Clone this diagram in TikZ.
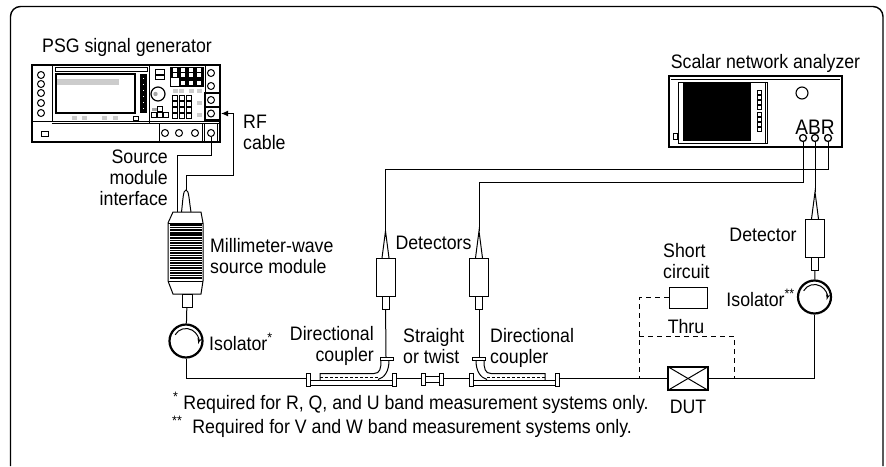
\documentclass[tikz,border=0pt]{standalone}
\usepackage{fontspec}
\setmainfont{Liberation Sans}[FakeStretch=0.91]
\usetikzlibrary{arrows, arrows.meta}

% coupler drawn with its port at the origin, long end towards +x
\newcommand{\coupler}{
\draw[wire] (-10,-5) rectangle (-6,8);
\draw[wire] (76,-5) rectangle (80,8);
\draw[wire] (-6,2) -- (76,2);
\draw[wire] (-6,7) -- (76,7);
\draw[wire] (-7,-21) rectangle (6,-18);
\draw[wire] (-3,-18) .. controls (-3,-8) and (1,-1) .. (8,1);
\draw[wire] (5,-18) .. controls (5,-10) and (6,-5) .. (12,-5) -- (66,-5) -- (66,2);
\draw[wire, densely dashed] (8,-1) -- (66,-1);
}
% name, x, top of body
\newcommand{\detector}[3]{
\node[detbody] (#1) at (#2,#3+19) {};
\node[detneck] (#1n) at (#2,#3+44.5) {};
\coordinate (#1tip) at (#2,#3-27);
\draw[wire] (#2-3.5,#3) -- (#1tip) -- (#2+3.5,#3);
}

\begin{document}
\begin{tikzpicture}[x=1pt,y=-1pt]

\tikzset{wire/.style = {line width=1pt}}
\tikzset{heavy/.style = {line width=2.2pt}}
\tikzset{port/.style = {shape=circle,draw,line width=1pt,minimum size=7pt,inner sep=0pt}}
\tikzset{key/.style = {draw,line width=0.8pt,fill=white,minimum size=4.5pt,inner sep=0pt}}
\tikzset{bar/.style = {fill=gray!40,draw=none,minimum width=5pt,minimum height=3.5pt,inner sep=0pt}}
\tikzset{isolator/.style = {shape=circle,draw,line width=2.2pt,minimum size=33pt,inner sep=0pt}}
\tikzset{detbody/.style = {draw,line width=1pt,minimum width=19pt,minimum height=38pt,inner sep=0pt}}
\tikzset{detneck/.style = {draw,line width=1pt,minimum width=7pt,minimum height=13pt,inner sep=0pt}}
\tikzset{lbl/.style = {inner sep=0pt,align=left,font=\fontsize{19.5}{21}\selectfont}}

\useasboundingbox (0,0) rectangle (886,466);
%frame
\draw[line width=1.4pt, rounded corners=10pt] (10.5,466) -- (10.5,6.5) -- (883,6.5) -- (883,466);

%signal generator
\node[heavy, draw, minimum width=188pt, minimum height=77pt, inner sep=0pt] (psg) at (126,103.5) {};
\draw[wire] (52,65) -- (52,121) -- (32,121);
\draw[wire] (32,121) -- (220,121);
\draw[wire] (52,123) -- (149,123) -- (149,65);
\draw[wire] (149,123) -- (220,123);
\draw[wire] (55,67) rectangle (147,71);
\draw[line width=1.3pt] (56,74) rectangle (135,113);
\fill[gray!40] (57,79) rectangle (119,85);
\foreach \y in {75,84,93,103,113} {\node[port] (led\y) at (41,\y) {};}
\foreach \x in {74,84,104,115} {\node[bar] (bar\x) at (\x,118) {};}
\draw[wire] (133,116) rectangle (138,120);
\fill (140,74) rectangle (147,113);
\foreach \y in {78,84,90,96,102,108} {\fill[white] (143,\y) rectangle (144,\y+1);}
%keys
\draw[wire] (155,69) rectangle (164,74);
\draw[wire] (155,75) rectangle (164,79);
\fill (170,67) rectangle (203,86);
\foreach \x in {173,181,189,197} {\foreach \y in {70,75} {\node[key] (ka\x\y) at (\x+2,\y) {};}}
\foreach \x in {181,189,197} {\node[key] (kb\x) at (\x+2,83) {};}
\fill[white] (171,78) rectangle (179,86);
\draw[wire] (170,67) rectangle (203,86);
\node[shape=circle, draw, line width=1.2pt, minimum size=14pt, inner sep=0pt] (knob) at (158,94) {};
\fill[gray!70] (155.5,94) circle (2.2pt);
\foreach \x in {175,181,191,199} {\node[bar] (bt\x) at (\x,91) {};}
\node[bar] (br1) at (199,103) {};
\node[bar] (br2) at (199,115) {};
\foreach \x in {175,182,189} {\foreach \y in {98,104,110,116} {\node[key] (kp\x\y) at (\x,\y) {};}}
\foreach \x in {154,160,166} {\node[key] (kc\x) at (\x,115) {};}
\node[key] (kd1) at (160,109) {};
\fill[gray!70] (152,108) rectangle (157,111);
%connectors
\draw[wire] (205,65) rectangle (220,93);
\node[port] (pa) at (211,73) {};
\node[port] (pb) at (211,86) {};
\draw[heavy] (205,93) rectangle (220,107);
\node[port] (pc) at (211,100) {};
\node[heavy, draw, minimum width=15pt, minimum height=13pt, inner sep=0pt] (rfbox) at (212.5,113.5) {};
\node[port] (rf) at (211,113.5) {};
\draw[wire] (159,123) rectangle (202,142);
\draw[wire] (204,123) rectangle (217,142);
\foreach \x in {165,179,195} {\node[port] (pd\x) at (\x,133) {};}
\node[port] (sm) at (211,133) {};
\draw[line width=1pt] (41,131) rectangle (48,136);

%source module
\draw[wire] (173,212) -- (201,212) -- (203,223) -- (203,281) -- (201,294) -- (173,294) -- (168,281) -- (168,223) -- cycle;
\draw[wire] (168,223) -- (203,223);
\draw[wire] (168,281) -- (203,281);
\foreach \y [count=\i] in {225,227.5,230,233,235,238,240.5,243,245.5,248,250.5,253,255.5,258,260.5,263,265.5,268,270.5,273,275.5,278}
{\pgfmathsetmacro{\w}{mod(\i,3)==0 ? 1.7 : 1.1}
\draw[line width=\w pt] (170,\y) -- (202,\y);}
\coordinate (modrf) at (186,190);
\draw[wire] (181.5,212) .. controls (183,200) and (183,190) .. (modrf) .. controls (189,190) and (189,200) .. (191,212);
\coordinate (modsm) at (177,212);
\node[detneck, minimum width=10pt, minimum height=13pt] (modout) at (187,300.5) {};
\node[isolator] (isoa) at (186,341) {};
\node[isolator] (isob) at (814.5,297) {};
\draw[wire, ->, >=latex'] ([shift={(-150:12.5)}]isoa.center) arc (-150:15:12.5);
\draw[wire, ->, >=latex'] ([shift={(-150:12.5)}]isob.center) arc (-150:15:12.5);

%analyzer
\node[heavy, draw, minimum width=173pt, minimum height=71pt, inner sep=0pt] (sna) at (755.5,111.5) {};
\draw[wire] (671,79) -- (840,79);
\draw[wire] (678,82) rectangle (767,143);
\draw[wire] (765,82) -- (765,143);
\fill (683,83) rectangle (751,141);
\draw[wire] (673,133) rectangle (677,139);
\foreach \y in {92,97,102,107,114,119,124,129} {\draw[line width=0.8pt] (757,\y-2) rectangle (761,\y+2);}
\node[shape=circle, draw, line width=1.1pt, minimum size=12pt, inner sep=0pt] (snaknob) at (802,93) {};
\node[port, line width=1.3pt] (porta) at (803,138) {};
\node[port, line width=1.3pt] (portb) at (815,138) {};
\node[port, line width=1.3pt] (portr) at (828,138) {};

%detectors
\detector{deta}{385.5}{258}
\detector{detb}{479}{258}
\detector{detc}{815}{219}

%couplers and straight section
\begin{scope}[shift={(479,378.5)}]
\coupler
\end{scope}
\begin{scope}[shift={(386,378.5)}, xscale=-1]
\coupler
\end{scope}
\coordinate (cplaw) at (306,378.5);
\coordinate (cplae) at (397,378.5);
\coordinate (cplbw) at (469,378.5);
\coordinate (cplbe) at (559,378.5);
\coordinate (strw) at (421,378.5);
\coordinate (stre) at (443,378.5);
\draw[wire] (421,373) rectangle (425,385);
\draw[wire] (439,373) rectangle (443,385);
\draw[wire] (425,376) rectangle (439,382);
\node[draw, line width=1.2pt, minimum width=40pt, minimum height=23pt, inner sep=0pt] (dut) at (688,378.5) {};
\draw[wire] (dut.north west) -- (dut.south east);
\draw[wire] (dut.south west) -- (dut.north east);
\node[draw, line width=1pt, minimum width=38pt, minimum height=21pt, inner sep=0pt] (short) at (688,297.5) {};
\coordinate (teea) at (639,378.5);
\coordinate (teeb) at (734,378.5);
\coordinate (thru) at (639,336);

%edges
\draw[wire] (sm) -- ++(0,22) -| (modsm);
\draw[wire, -{Latex[length=7pt,width=6pt]}] (modrf) |- (233,175) |- (rfbox);
\draw[wire] (modout) -- (isoa);
\draw[wire] (isoa) |- (cplaw);
\draw[wire] (cplae) -- (strw);
\draw[wire] (stre) -- (cplbw);
\draw[wire] (cplbe) -- (dut);
\draw[wire] (detan) -- (386,357);
\draw[wire] (detbn) -- (479,357);
\draw[wire] (portr) -- ++(0,31) -| (detatip);
\draw[wire] (porta) -- ++(0,44) -| (detbtip);
\draw[wire] (portb) -- (detctip);
\draw[wire] (detcn) -- (isob);
\draw[wire] (isob) |- (dut);
\draw[wire, dash pattern=on 5pt off 4pt] (short) -| (teea);
\draw[wire, dash pattern=on 5pt off 4pt] (thru) -| (teeb);

%labels
\node[lbl] (lpsg) at (127,47) {PSG signal generator};
\node[lbl] (lsna) at (765.5,63) {Scalar network analyzer};
\node[lbl, anchor=west] (lrf) at (243,132) {RF\\cable};
\node[lbl, anchor=east, align=right] (lsmi) at (168,178) {Source\\module\\interface};
\node[lbl, anchor=west] (lmod) at (210,256.5) {Millimeter-wave\\source module};
\node[lbl, anchor=west] (liso) at (209,342) {Isolator\textsuperscript{*}};
\node[lbl, anchor=east] (lisob) at (795,298) {Isolator\textsuperscript{**}};
\node[lbl, anchor=east, align=right] (lcpla) at (374,346) {Directional\\coupler};
\node[lbl, anchor=west] (lstr) at (403,346) {Straight\\or twist};
\node[lbl, anchor=west] (lcplb) at (490,348) {Directional\\coupler};
\node[lbl] (ldets) at (433.5,243) {Detectors};
\node[lbl] (ldet) at (763,235) {Detector};
\node[lbl, anchor=west] (lshort) at (663,261.5) {Short\\circuit};
\node[lbl] (lthru) at (686,327) {Thru};
\node[lbl] (ldut) at (688,407) {DUT};
\node[lbl, font=\fontsize{21}{21}\selectfont] (labr) at (815,127) {ABR};
\node[lbl, anchor=west] (lnota) at (173,403) {\textsuperscript{*} Required for R, Q, and U band measurement systems only.};
\node[lbl, anchor=west] (lnotb) at (172,427) {\textsuperscript{**}\hspace{10pt}Required for V and W band measurement systems only.};

\end{tikzpicture}
\end{document}
